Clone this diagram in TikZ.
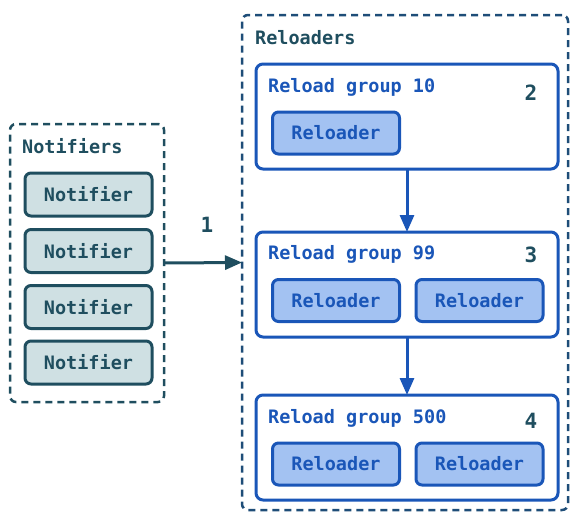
\documentclass[tikz,border=0pt]{standalone}
\usepackage{fontspec}
\setmonofont{DejaVu Sans Mono}
\usetikzlibrary{arrows.meta}
\definecolor{teal}{HTML}{1F4E5F}
\definecolor{lteal}{HTML}{CFE0E3}
\definecolor{rblue}{HTML}{1A56B8}
\definecolor{lblue}{HTML}{A3C2F2}
\definecolor{obord}{HTML}{1E4D78}
\tikzset{
  txt/.style={font=\fontsize{18.5}{20}\selectfont\ttfamily\bfseries},
  outerbox/.style={draw, dash pattern=on 7pt off 5pt, line width=2.5pt, rounded corners=6pt, inner sep=0pt, outer sep=0pt},
  notifbox/.style={draw=teal, fill=lteal, line width=3pt, rounded corners=6pt, minimum width=127pt, minimum height=43pt, inner sep=0pt, outer sep=0pt, txt, text=teal},
  relbox/.style={draw=rblue, fill=lblue, line width=3pt, rounded corners=6pt, minimum width=127pt, minimum height=42pt, inner sep=0pt, outer sep=0pt, txt, text=rblue},
  groupbox/.style={draw=rblue, fill=white, line width=3pt, rounded corners=7pt, minimum width=302pt, minimum height=105pt, inner sep=0pt, outer sep=0pt},
  grouplabel/.style={txt, text=rblue, anchor=west, inner sep=0pt},
  numlabel/.style={txt, text=teal, inner sep=0pt, font=\fontsize{21}{23}\selectfont\ttfamily\bfseries},
  arr/.style={line width=3pt, -{Triangle[length=17pt,width=14pt]}},
}
\begin{document}
\begin{tikzpicture}[x=1pt,y=-1pt]
\useasboundingbox (0,0) rectangle (579,523);
% outer containers
\node[outerbox, draw=teal, minimum width=154pt, minimum height=278pt] (notifiers) at (87,263) {};
\node[outerbox, draw=obord, minimum width=326pt, minimum height=495pt] (reloaders) at (405,262.5) {};
\node[txt, text=teal, anchor=west, inner sep=0pt] (notiftitle) at (22,146) {Notifiers};
\node[txt, text=teal, anchor=west, inner sep=0pt] (reltitle) at (255,38) {Reloaders};
% notifiers
\node[notifbox] (n1) at (88.5,194.5) {Notifier};
\node[notifbox] (n2) at (88.5,251) {Notifier};
\node[notifbox] (n3) at (88.5,307) {Notifier};
\node[notifbox] (n4) at (88.5,362.5) {Notifier};
% groups
\node[groupbox] (g10) at (407,116.5) {};
\node[groupbox] (g99) at (407,284.5) {};
\node[groupbox] (g500) at (407,447.5) {};
\node[grouplabel] (g10l) at (268,87) {Reload group 10};
\node[grouplabel] (g99l) at (268,254) {Reload group 99};
\node[grouplabel] (g500l) at (268,418) {Reload group 500};
\node[numlabel] (num2) at (531,93) {2};
\node[numlabel] (num3) at (531,255) {3};
\node[numlabel] (num4) at (531,421) {4};
\node[relbox] (r1) at (336,133) {Reloader};
\node[relbox] (r2) at (336,300.5) {Reloader};
\node[relbox] (r3) at (479.5,300.5) {Reloader};
\node[relbox] (r4) at (336,464) {Reloader};
\node[relbox] (r5) at (479.5,464) {Reloader};
% connectors
\draw[arr, teal] (notifiers.east) -- (reloaders.west);
\node[numlabel] (num1) at (207,225) {1};
\draw[arr, rblue] (g10.south) -- (g99.north);
\draw[arr, rblue] (g99.south) -- (g500.north);
\end{tikzpicture}
\end{document}
